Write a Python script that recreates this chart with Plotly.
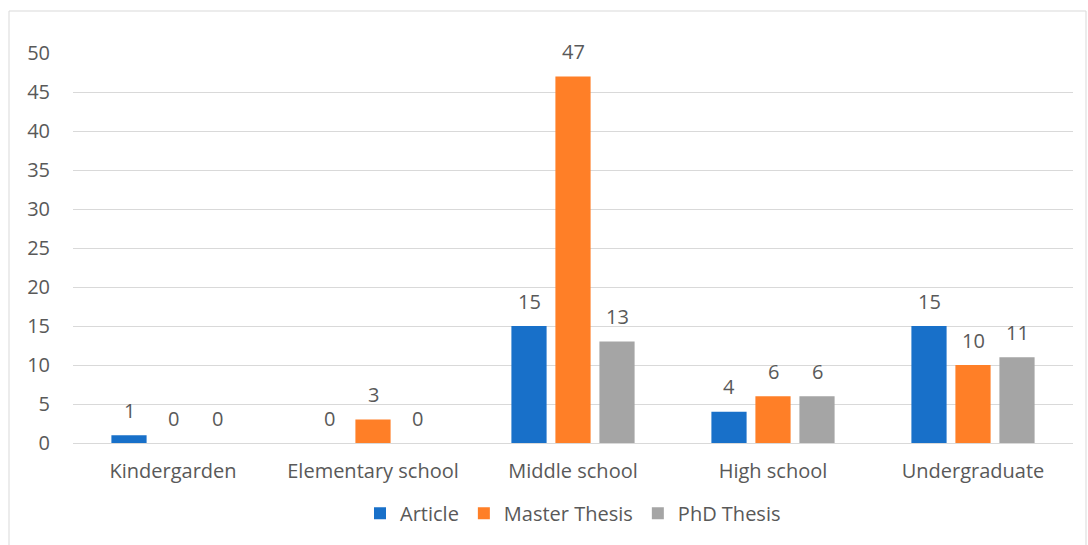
import plotly.graph_objects as go

categories = ["Kindergarden", "Elementary school", "Middle school", "High school", "Undergraduate"]
article = [1, 0, 15, 4, 15]
master_thesis = [0, 3, 47, 6, 10]
phd_thesis = [0, 0, 13, 6, 11]
y_ticks = [0, 5, 10, 15, 20, 25, 30, 35, 40, 45, 50]

FONT = "Open Sans"
TEXT_GREY = "#595959"
SIZE = 20

series = [
    ("Article", article, "#1870c9"),
    ("Master Thesis", master_thesis, "#ff7f27"),
    ("PhD Thesis", phd_thesis, "#a5a5a5"),
]

# Bar geometry: each category is 200 px wide; a group takes (1 - bargap)
# of it, split in three equal slots.
BARGAP = 0.34
BARGROUPGAP = 0.2
CATEGORY_PX = 1000 / len(categories)
SLOT_PX = CATEGORY_PX * (1 - BARGAP) / len(series)

fig = go.Figure()
for i, (name, values, color) in enumerate(series):
    fig.add_trace(go.Bar(
        name=name,
        x=categories,
        y=values,
        marker=dict(color=color, line=dict(width=0)),
    ))
    # value labels above each bar
    for cat, v in zip(categories, values):
        fig.add_annotation(
            x=cat, y=v, text=str(v),
            xref="x", yref="y",
            xshift=(i - (len(series) - 1) / 2) * SLOT_PX,
            yshift=25,
            yanchor="middle",
            showarrow=False,
            font=dict(family=FONT, size=SIZE, color=TEXT_GREY),
        )

fig.update_layout(
    width=1088,
    height=545,
    barmode="group",
    bargap=BARGAP,
    bargroupgap=BARGROUPGAP,
    plot_bgcolor="white",
    paper_bgcolor="white",
    margin=dict(l=73, r=15, t=53, b=102),
    font=dict(family=FONT, color=TEXT_GREY, size=SIZE),
    legend=dict(
        orientation="h",
        x=0.5, xanchor="center",
        y=-0.18, yanchor="middle",
        font=dict(family=FONT, size=SIZE, color=TEXT_GREY),
        itemwidth=30,
        traceorder="normal",
    ),
)

fig.update_xaxes(
    showgrid=False,
    showline=False,
    ticks="",
    ticklabelstandoff=14,
    tickfont=dict(family=FONT, size=SIZE, color=TEXT_GREY),
)
fig.update_yaxes(
    range=[0, 50],
    tickvals=y_ticks,
    showgrid=True,
    gridcolor="#d9d9d9",
    gridwidth=1,
    zeroline=True,
    zerolinecolor="#d9d9d9",
    zerolinewidth=1,
    showline=False,
    ticks="",
    ticklabelstandoff=22,
    tickfont=dict(family=FONT, size=SIZE, color=TEXT_GREY),
)

# Chart frame
fig.add_shape(
    type="rect", xref="paper", yref="paper",
    x0=-64 / 1000, x1=1013 / 1000, y0=-0.3, y1=1 + 42 / 390,
    line=dict(color="#d9d9d9", width=1),
    fillcolor="rgba(0,0,0,0)",
    layer="below",
)

fig.write_html("out.html")
